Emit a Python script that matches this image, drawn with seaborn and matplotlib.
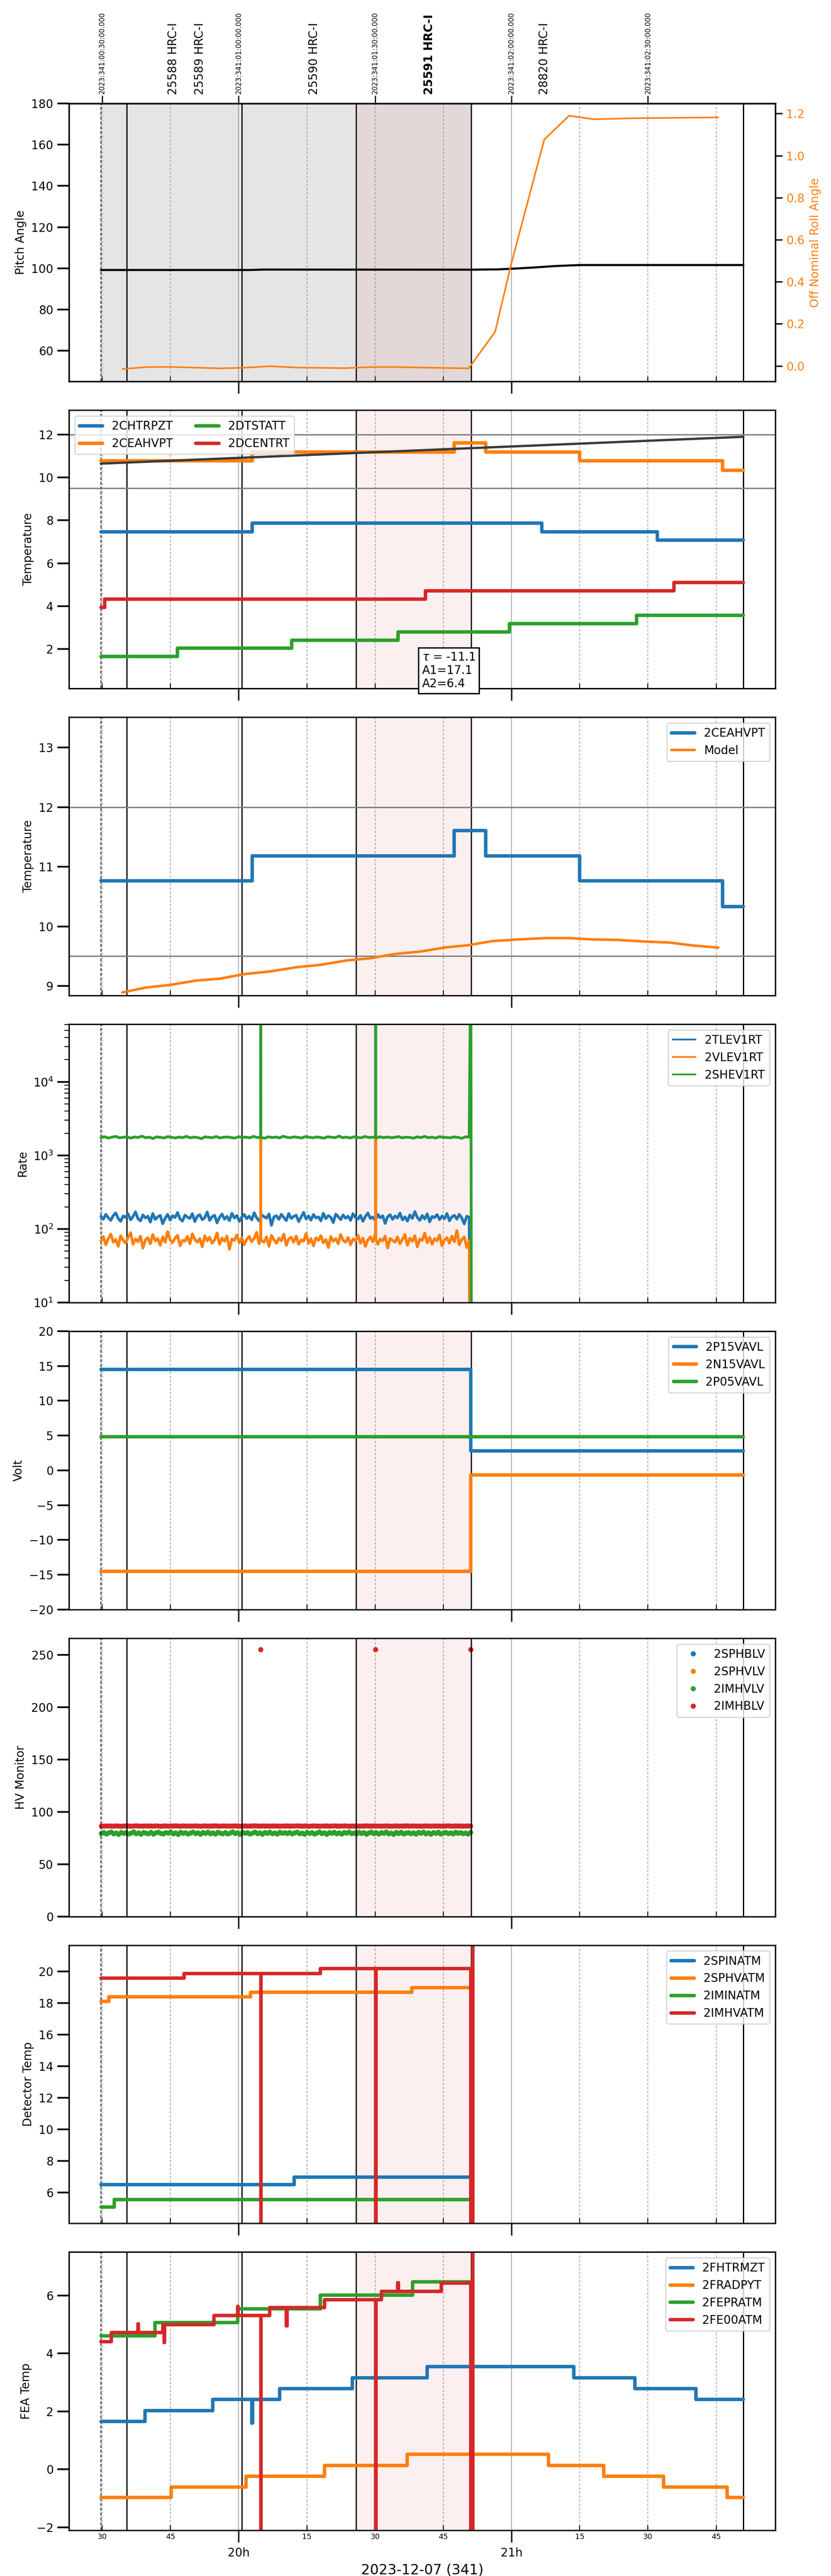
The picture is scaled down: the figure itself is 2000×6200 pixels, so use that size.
import numpy as np
import pandas as pd
import seaborn as sns
import matplotlib.pyplot as plt
from matplotlib.ticker import MultipleLocator, FuncFormatter

# time axis in decimal hours (local), 19.5 == 19:30
top_ticks = [19.5, 20.0, 20.5, 21.0, 21.5]
top_labels = ['2023:341:00:30:00.000', '2023:341:01:00:00.000', '2023:341:01:30:00.000',
              '2023:341:02:00:00.000', '2023:341:02:30:00.000']
obsid_labels = ['25588 HRC-I', '25589 HRC-I', '25590 HRC-I', '25591 HRC-I', '28820 HRC-I']
obsid_pos = [19.761, 19.858, 20.276, 20.699, 21.120]
obs_start = 19.495
obs_bounds = [19.590, 20.012, 20.431, 20.852, 21.850]
gray_span = [19.495, 20.852]
red_span = [20.431, 20.852]

# pitch / roll
pitch_t = [19.495, 20.04, 20.09, 20.85, 20.95, 21.00, 21.087, 21.165, 21.25, 21.85]
pitch_v = [99.2, 99.2, 99.4, 99.35, 99.5, 99.8, 100.45, 101.15, 101.6, 101.6]
roll_t = [19.574, 19.661, 19.748, 19.932, 20.019, 20.116, 20.213, 20.388, 20.484, 20.581,
          20.843, 20.940, 20.998, 21.120, 21.211, 21.302, 21.453, 21.758]
roll_v = [-0.015, -0.006, -0.005, -0.012, -0.009, -0.002, -0.008, -0.011, -0.006, -0.006,
          -0.012, 0.162, 0.48, 1.076, 1.19, 1.173, 1.178, 1.182]

# temperatures (step telemetry)
chtrpzt_t = [19.495, 20.050, 21.111, 21.534, 21.850]
chtrpzt_v = [7.47, 7.87, 7.47, 7.07, 7.07]
ceahvpt_t = [19.495, 20.050, 20.790, 20.905, 21.250, 21.774, 21.850]
ceahvpt_v = [10.764, 11.18, 11.61, 11.18, 10.764, 10.33, 10.33]
dtstatt_t = [19.495, 19.775, 20.194, 20.584, 20.992, 21.458, 21.850]
dtstatt_v = [1.66, 2.04, 2.42, 2.80, 3.18, 3.57, 3.57]
dcentrt_t = [19.495, 19.509, 20.685, 21.596, 21.850]
dcentrt_v = [3.95, 4.33, 4.71, 5.10, 5.10]
trend_t = [19.495, 21.850]
trend_v = [10.64, 11.89]
ceahvpt_limits = [9.5, 12.0]
fit_text = "$\\tau$ = -11.1\nA1=17.1\nA2=6.4"

model_t = [19.574, 19.661, 19.748, 19.845, 19.932, 20.019, 20.116, 20.213, 20.300, 20.397,
           20.484, 20.572, 20.669, 20.756, 20.843, 20.930, 21.027, 21.124, 21.211, 21.298,
           21.395, 21.483, 21.579, 21.667, 21.758]
model_v = [8.893, 8.975, 9.018, 9.092, 9.124, 9.199, 9.245, 9.316, 9.355, 9.430,
           9.466, 9.537, 9.580, 9.647, 9.686, 9.754, 9.782, 9.804, 9.804, 9.782,
           9.772, 9.747, 9.729, 9.679, 9.644]

# event rates (sampled telemetry from 19.495 to 20.845)
rate_t0, rate_t1 = 19.495, 20.845
tlev1rt = [148, 136, 158, 142, 131, 152, 165, 139, 127, 150, 144, 160, 133, 147, 171, 138, 129, 155, 141, 149,
           124, 162, 135, 146, 153, 118, 140, 158, 132, 151, 143, 167, 137, 128, 154, 145, 139, 161, 126, 149,
           156, 134, 142, 170, 131, 147, 153, 121, 144, 159, 136, 148, 130, 163, 141, 152, 127, 145, 157, 138,
           149, 133, 166, 142, 129, 155, 147, 140, 160, 112, 146, 151, 135, 158, 143, 130, 162, 139, 148, 154,
           126, 145, 168, 137, 150, 132, 157, 141, 146, 129, 163, 138, 152, 144, 122, 159, 147, 134, 155, 140,
           149, 131, 161, 143, 136, 153, 127, 148, 165, 139, 145, 130, 158, 142, 151, 119, 147, 156, 135, 150,
           141, 164, 133, 146, 128, 155, 139, 172, 144, 131, 152, 137, 160, 125, 148, 143, 157, 134, 150, 138,
           162, 129, 146, 153, 136, 158, 141, 117, 149, 144]
vlev1rt = [68, 79, 61, 74, 85, 66, 72, 58, 81, 70, 64, 77, 89, 62, 73, 67, 80, 55, 71, 76,
           63, 84, 69, 74, 60, 78, 66, 92, 71, 65, 75, 82, 59, 70, 68, 79, 63, 86, 72, 66,
           74, 57, 81, 69, 77, 64, 71, 88, 62, 75, 68, 80, 53, 73, 70, 83, 65, 76, 61, 72,
           79, 67, 74, 90, 63, 70, 66, 78, 58, 82, 71, 64, 75, 69, 85, 60, 73, 77, 66, 80,
           62, 71, 68, 87, 64, 74, 59, 76, 70, 81, 65, 72, 56, 79, 68, 74, 63, 84, 70, 66,
           77, 61, 73, 69, 82, 64, 75, 58, 71, 78, 67, 86, 62, 73, 69, 80, 55, 74, 70, 66,
           78, 63, 72, 84, 60, 75, 68, 81, 57, 73, 70, 88, 65, 77, 62, 74, 69, 83, 59, 71,
           76, 64, 80, 67, 95, 61, 72, 78, 56, 69]
shev1rt = [1745, 1790, 1720, 1770, 1810, 1735, 1760, 1795, 1715, 1780, 1750, 1825, 1740, 1765, 1700,
           1785, 1755, 1730, 1800, 1760, 1725, 1775, 1745, 1815, 1735, 1770, 1750, 1690, 1785, 1760,
           1740, 1805, 1725, 1765, 1780, 1745, 1720, 1795, 1755, 1770, 1735, 1810, 1750, 1765, 1710,
           1790, 1745, 1775, 1730, 1820, 1760, 1740, 1785, 1755, 1725, 1800, 1765, 1735, 1780, 1750,
           1715, 1795, 1760, 1745, 1830, 1740, 1770, 1725, 1785, 1755, 1735, 1805, 1750, 1765, 1720,
           1790, 1745, 1775, 1740, 1760, 1800, 1730, 1770, 1755, 1715, 1785, 1745, 1810, 1740, 1765,
           1725, 1795, 1760, 1750, 1735, 1780, 1755, 1705, 1790, 1770]
tlev1rt_evt_t = [20.847]
tlev1rt_evt_v = [1]
vlev1rt_evt_t = [20.0805, 20.081, 20.0815, 20.5015, 20.502, 20.5025, 20.848]
vlev1rt_evt_v = [72, 1700, 72, 72, 1700, 72, 1]
shev1rt_evt_t = [20.0805, 20.081, 20.0815, 20.5015, 20.502, 20.5025, 20.851, 20.853]
shev1rt_evt_v = [1760, 1e6, 1760, 1760, 1e6, 1760, 1e6, 1]

# voltages
p15vavl_t = [19.495, 20.851, 21.850]
p15vavl_v = [14.52, 2.81, 2.81]
n15vavl_t = [19.495, 20.851, 21.850]
n15vavl_v = [-14.5, -0.64, -0.64]
p05vavl_t = [19.495, 21.850]
p05vavl_v = [4.85, 4.85]

# HV monitors (sampled from 19.497 to 20.850)
hv_t0, hv_t1 = 19.497, 20.850
hv_names = ['2SPHBLV', '2SPHVLV', '2IMHVLV', '2IMHBLV']
imhvlv_v = [79.2, 80.1, 78.8, 79.9, 80.6, 79.0, 79.7, 78.5, 80.3, 79.4,
            80.0, 78.9, 79.6, 80.8, 79.1, 79.8, 78.6, 80.2, 79.5, 79.0,
            80.4, 78.7, 79.9, 80.5, 79.3, 78.9, 80.1, 79.6, 80.7, 79.0,
            79.8, 78.4, 80.3, 79.5, 80.0, 78.8, 79.7, 80.6, 79.2, 79.9,
            78.6, 80.2, 79.4, 80.5, 79.1, 79.8, 78.7, 80.4, 79.6, 79.0,
            80.1, 78.9, 79.7, 80.8, 79.3, 79.9, 78.5, 80.3, 79.5, 80.0,
            78.8, 79.6, 80.6, 79.2, 79.8, 78.6, 80.2, 79.4, 80.5, 79.1,
            79.7, 78.7, 80.4, 79.5, 80.0, 79.3, 80.2, 78.9, 79.8, 80.5,
            79.1, 79.6, 78.6, 80.3, 79.4, 80.0, 78.8, 79.7, 80.7, 79.2,
            79.9, 78.5, 80.1, 79.5, 80.4, 79.0, 79.8, 78.7, 80.2, 79.6,
            80.6, 79.1, 79.7, 78.9, 80.3, 79.4, 80.0, 78.6, 79.8, 80.5,
            79.2, 79.9, 78.8, 80.1, 79.5, 80.7, 79.0, 79.6, 78.5, 80.2,
            79.3, 80.4, 78.9, 79.7, 80.0, 79.1, 79.8, 78.7, 80.3, 79.5,
            80.6, 79.0, 79.9, 78.6, 80.1, 79.4, 80.5, 78.8, 79.6, 80.2,
            79.2, 79.8, 78.9, 80.4, 79.5, 80.0, 79.1, 79.7, 78.7, 80.3]
imhblv_v = [86.4, 86.3, 86.5, 86.4, 86.4, 86.3, 86.5, 86.4, 86.2, 86.4,
            86.5, 86.4, 86.3, 86.4, 86.6, 86.4, 86.3, 86.4, 86.5, 86.4,
            86.4, 86.3, 86.5, 86.4, 86.2, 86.4, 86.5, 86.3, 86.4, 86.4,
            86.6, 86.4, 86.3, 86.5, 86.4, 86.4, 86.3, 86.4, 86.5, 86.4,
            86.2, 86.4, 86.5, 86.3, 86.4, 86.4, 86.6, 86.4, 86.3, 86.5,
            86.4, 86.4, 86.3, 86.4, 86.5, 86.4, 86.2, 86.4, 86.5, 86.3,
            86.4, 86.4, 86.6, 86.4, 86.3, 86.5, 86.4, 86.4, 86.3, 86.4,
            86.5, 86.4, 86.3, 86.4, 86.4, 86.5, 86.3, 86.4, 86.4, 86.6,
            86.4, 86.3, 86.5, 86.4, 86.2, 86.4, 86.5, 86.4, 86.3, 86.4,
            86.4, 86.5, 86.3, 86.4, 86.6, 86.4, 86.3, 86.4, 86.5, 86.4,
            86.2, 86.4, 86.4, 86.5, 86.3, 86.4, 86.4, 86.6, 86.4, 86.3,
            86.5, 86.4, 86.4, 86.3, 86.4, 86.5, 86.4, 86.2, 86.4, 86.5,
            86.3, 86.4, 86.4, 86.6, 86.4, 86.3, 86.5, 86.4, 86.4, 86.3,
            86.4, 86.5, 86.4, 86.3, 86.4, 86.4, 86.5, 86.3, 86.4, 86.4,
            86.6, 86.4, 86.3, 86.5, 86.4, 86.4, 86.3, 86.4, 86.5, 86.4]
imhblv_evt_t = [20.081, 20.502, 20.851]
imhblv_evt_v = [255, 255, 255]

# detector temperatures
spinatm_t = [19.495, 20.204, 20.845]
spinatm_v = [6.50, 6.99, 6.99]
sphvatm_t = [19.495, 19.524, 20.043, 20.635, 20.845]
sphvatm_v = [18.12, 18.40, 18.70, 18.99, 18.99]
iminatm_t = [19.495, 19.544, 20.845]
iminatm_v = [5.09, 5.55, 5.55]
imhvatm_t = [19.495, 19.800, 20.081, 20.082, 20.299, 20.502, 20.503, 20.851, 20.859]
imhvatm_v = [19.58, 19.89, -5, 19.89, 20.20, -5, 20.20, -5, 40]

# FEA temperatures
fhtrmzt_t = [19.495, 19.656, 19.905, 20.048, 20.051, 20.150, 20.417, 20.691, 21.229, 21.452, 21.676, 21.850]
fhtrmzt_v = [1.65, 2.03, 2.41, 1.60, 2.41, 2.78, 3.16, 3.55, 3.16, 2.78, 2.41, 2.41]
fradpyt_t = [19.495, 19.753, 20.027, 20.315, 20.617, 21.136, 21.338, 21.557, 21.790, 21.850]
fradpyt_v = [-0.98, -0.61, -0.245, 0.137, 0.518, 0.137, -0.245, -0.61, -0.98, -0.98]
fepratm_t = [19.495, 19.693, 19.996, 20.299, 20.637, 20.852]
fepratm_v = [4.61, 5.07, 5.54, 6.01, 6.48, 6.48]
fe00atm_t = [19.495, 19.534, 19.631, 19.633, 19.722, 19.726, 19.728, 19.909, 19.996, 19.998,
             20.081, 20.082, 20.113, 20.175, 20.177, 20.315, 20.502, 20.503, 20.524, 20.583,
             20.585, 20.742, 20.851, 20.859]
fe00atm_v = [4.41, 4.72, 5.02, 4.72, 4.99, 4.38, 4.99, 5.31, 5.62, 5.31,
             -5, 5.31, 5.58, 4.95, 5.58, 5.86, -5, 5.86, 6.14, 6.45,
             6.14, 6.43, -5, 20]

sns.set_style('ticks', {'axes.edgecolor': 'black', 'xtick.color': 'black', 'ytick.color': 'black',
                        'text.color': 'black', 'axes.labelcolor': 'black'})
plt.rcParams['font.family'] = ['DejaVu Sans']
plt.rcParams['font.size'] = 10
plt.rcParams['axes.linewidth'] = 1.2

blue, orange, green, red = sns.color_palette('tab10', 4)
LW = 3.0

fig, axes = plt.subplots(8, 1, figsize=(10, 31), dpi=200, sharex=True,
                         gridspec_kw=dict(left=0.083, right=0.933, top=0.9599,
                                          bottom=0.0177, hspace=0.103))
ax1, ax2, ax3, ax4, ax5, ax6, ax7, ax8 = axes


def decorate(ax):
    ax.axvspan(*red_span, color=red, alpha=0.07, lw=0)
    ax.axvline(obs_start, color='k', lw=0.7, ls=(0, (4, 2)), zorder=1.5)
    for x in obs_bounds:
        ax.axvline(x, color='k', lw=1.1, zorder=1.5)
    ax.xaxis.grid(True, which='major', color='#b0b0b0', lw=0.8, ls='-')
    ax.xaxis.grid(True, which='minor', color='#b0b0b0', lw=0.8, ls=(0, (2.6, 1.8)))


def step(ax, t, v, color, label=None, lw=LW):
    sns.lineplot(x=t, y=v, ax=ax, color=color, lw=lw, label=label,
                 drawstyle='steps-post', estimator=None, sort=False)


# 1: pitch / roll
ax1.axvspan(*gray_span, color='gray', alpha=0.2, lw=0)
decorate(ax1)
sns.lineplot(x=pitch_t, y=pitch_v, ax=ax1, color='black', lw=1.8, estimator=None, sort=False)
ax1r = ax1.twinx()
sns.lineplot(x=roll_t, y=roll_v, ax=ax1r, color=orange, lw=1.4, estimator=None, sort=False)
ax1.set_ylim(45.1, 180)
ax1.yaxis.set_major_locator(MultipleLocator(20))
ax1.set_ylabel('Pitch Angle')
ax1r.set_ylim(-0.075, 1.249)
ax1r.yaxis.set_major_locator(MultipleLocator(0.2))
ax1r.set_ylabel('Off Nominal Roll Angle', color=orange)
ax1r.tick_params(axis='y', labelcolor=orange, direction='out', length=6, width=1.2, labelsize=10)
sec = ax1.secondary_xaxis('top')
sec.set_xticks(top_ticks, labels=top_labels)
sec.tick_params(axis='x', rotation=90, labelsize=6, length=7, width=1, pad=1, direction='out')
for lab, x in zip(obsid_labels, obsid_pos):
    ax1.text(x, 1.031, lab, transform=ax1.get_xaxis_transform(), rotation=90,
             ha='center', va='bottom', fontsize=10,
             fontweight='bold' if lab.startswith('25591') else 'normal')

# 2: temperatures
decorate(ax2)
for y in ceahvpt_limits:
    ax2.axhline(y, color='gray', lw=1.2)
step(ax2, chtrpzt_t, chtrpzt_v, blue, '2CHTRPZT')
step(ax2, ceahvpt_t, ceahvpt_v, orange, '2CEAHVPT')
step(ax2, dtstatt_t, dtstatt_v, green, '2DTSTATT')
step(ax2, dcentrt_t, dcentrt_v, red, '2DCENTRT')
sns.lineplot(x=trend_t, y=trend_v, ax=ax2, color='#3a3a3a', lw=2.0, estimator=None, sort=False)
ax2.set_ylim(0.164, 13.125)
ax2.yaxis.set_major_locator(MultipleLocator(2))
ax2.set_ylabel('Temperature')
ax2.legend(loc='upper left', ncol=2)
ax2.text(20.672, 0.134, fit_text, transform=ax2.get_xaxis_transform(), va='top', ha='left',
         fontsize=10, zorder=6,
         bbox=dict(boxstyle='square,pad=0.3', fc='white', ec='black', lw=1.2))

# 3: CEA HV temp vs model
decorate(ax3)
for y in ceahvpt_limits:
    ax3.axhline(y, color='gray', lw=1.2)
step(ax3, ceahvpt_t, ceahvpt_v, blue, '2CEAHVPT')
sns.lineplot(x=model_t, y=model_v, ax=ax3, color=orange, lw=2.2, label='Model',
             estimator=None, sort=False)
ax3.set_ylim(8.84, 13.51)
ax3.yaxis.set_major_locator(MultipleLocator(1))
ax3.set_ylabel('Temperature')
ax3.legend(loc='upper right')

# 4: rates
decorate(ax4)
ax4.set_yscale('log')
for vals, et, ev, c, lab in [(tlev1rt, tlev1rt_evt_t, tlev1rt_evt_v, blue, '2TLEV1RT'),
                             (vlev1rt, vlev1rt_evt_t, vlev1rt_evt_v, orange, '2VLEV1RT'),
                             (shev1rt, shev1rt_evt_t, shev1rt_evt_v, green, '2SHEV1RT')]:
    t = np.r_[np.linspace(rate_t0, rate_t1, len(vals)), et]
    v = np.r_[vals, ev]
    sns.lineplot(x=t, y=v, ax=ax4, color=c, lw=2.4, label=lab, estimator=None, sort=True)
ax4.set_ylim(10, 6.07e4)
ax4.set_ylabel('Rate')
leg4 = ax4.legend(loc='upper right')
for ln in leg4.get_lines():
    ln.set_linewidth(1.5)

# 5: voltages
decorate(ax5)
step(ax5, p15vavl_t, p15vavl_v, blue, '2P15VAVL')
step(ax5, n15vavl_t, n15vavl_v, orange, '2N15VAVL')
step(ax5, p05vavl_t, p05vavl_v, green, '2P05VAVL')
ax5.set_ylim(-20, 20)
ax5.yaxis.set_major_locator(MultipleLocator(5))
ax5.set_ylabel('Volt')
ax5.legend(loc='upper right')

# 6: HV monitor
decorate(ax6)
hv_df = pd.concat([
    pd.DataFrame({'t': np.linspace(hv_t0, hv_t1, len(imhvlv_v)), 'v': imhvlv_v, 'msid': '2IMHVLV'}),
    pd.DataFrame({'t': np.r_[np.linspace(hv_t0, hv_t1, len(imhblv_v)), imhblv_evt_t],
                  'v': np.r_[imhblv_v, imhblv_evt_v], 'msid': '2IMHBLV'}),
], ignore_index=True)
sns.scatterplot(data=hv_df, x='t', y='v', hue='msid', hue_order=hv_names,
                palette=[blue, orange, green, red], s=20, linewidth=0, ax=ax6)
sns.move_legend(ax6, 'upper right', title=None)
ax6.set_ylim(0, 266)
ax6.yaxis.set_major_locator(MultipleLocator(50))
ax6.set_ylabel('HV Monitor')
ax6.set_xlabel('')

# 7: detector temps
decorate(ax7)
step(ax7, spinatm_t, spinatm_v, blue, '2SPINATM')
step(ax7, sphvatm_t, sphvatm_v, orange, '2SPHVATM')
step(ax7, iminatm_t, iminatm_v, green, '2IMINATM')
step(ax7, imhvatm_t, imhvatm_v, red, '2IMHVATM')
ax7.set_ylim(4.05, 21.68)
ax7.yaxis.set_major_locator(MultipleLocator(2))
ax7.set_ylabel('Detector Temp')
ax7.legend(loc='upper right')

# 8: FEA temps
decorate(ax8)
step(ax8, fhtrmzt_t, fhtrmzt_v, blue, '2FHTRMZT')
step(ax8, fradpyt_t, fradpyt_v, orange, '2FRADPYT')
step(ax8, fepratm_t, fepratm_v, green, '2FEPRATM')
step(ax8, fe00atm_t, fe00atm_v, red, '2FE00ATM')
ax8.set_ylim(-2.11, 7.5)
ax8.yaxis.set_major_locator(MultipleLocator(2))
ax8.set_ylabel('FEA Temp')
ax8.legend(loc='upper right')

ax8.set_xlim(19.378, 21.967)
ax8.xaxis.set_major_locator(MultipleLocator(1))
ax8.xaxis.set_minor_locator(MultipleLocator(0.25))
ax8.xaxis.set_major_formatter(FuncFormatter(lambda x, pos: f'{x:.0f}h'))
ax8.xaxis.set_minor_formatter(FuncFormatter(lambda x, pos: f'{round((x % 1) * 60):d}'))
ax8.set_xlabel('2023-12-07 (341)', fontsize=12)

for ax in axes:
    ax.tick_params(axis='x', which='major', direction='out', length=10.5, width=1.2,
                   labelsize=10, pad=4)
    ax.tick_params(axis='x', which='minor', direction='in', length=4.5, width=0.8,
                   labelsize=6.5, pad=2.5)
    ax.tick_params(axis='y', which='major', direction='out', length=10, width=1.5, labelsize=10)
    ax.tick_params(axis='y', which='minor', direction='out', length=4, width=0.8)
    if ax is not ax8:
        ax.set_xlabel('')

fig.savefig('out.png', dpi=200)
